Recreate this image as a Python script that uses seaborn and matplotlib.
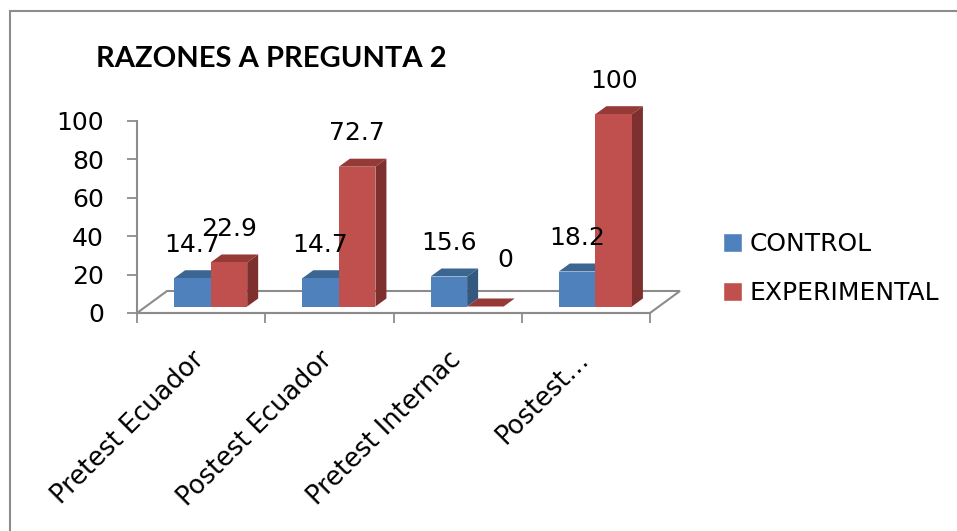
import pandas as pd
import matplotlib
matplotlib.use("Agg")
import matplotlib.pyplot as plt
import matplotlib.transforms as mtransforms
from matplotlib.patches import Polygon, Rectangle, Patch
import seaborn as sns

# datos
categorias = ['Pretest Ecuador', 'Postest Ecuador', 'Pretest Internac', 'Postest…']
control = [14.7, 14.7, 15.6, 18.2]
experimental = [22.9, 72.7, 0, 100]
series = ['CONTROL', 'EXPERIMENTAL']

colores = ['#4F81BD', '#C0504D']
colores_top = ['#3C6692', '#953A37']
colores_lado = ['#35587F', '#7D302E']
gris = '#8C8C8C'

df = pd.DataFrame({
    'categoria': categorias * 2,
    'serie': [series[0]] * len(control) + [series[1]] * len(experimental),
    'valor': control + experimental,
})

sns.set_style('white')
plt.rcParams['font.family'] = ['DejaVu Sans']
plt.rcParams['text.color'] = 'black'
plt.rcParams['xtick.labelcolor'] = 'black'
plt.rcParams['ytick.labelcolor'] = 'black'

W, H = 957, 531
fig = plt.figure(figsize=(W / 100, H / 100), dpi=100)
ax = fig.add_axes([137 / W, 1 - 313 / H, (650 - 137) / W, (313 - 120.7) / H])

sns.barplot(data=df, x='categoria', y='valor', hue='serie', palette=colores,
            width=0.57, saturation=1, linewidth=0, legend=False, ax=ax, zorder=3)
ax.set_xlim(-0.5, 3.5)
ax.set_ylim(0, 100)
ax.set_xlabel('')
ax.set_ylabel('')

# efecto 3D: barras desplazadas hacia el fondo del piso
sh = ax.transData + mtransforms.ScaledTranslation(9.5 / 100, 6.5 / 100, fig.dpi_scale_trans)
ident = mtransforms.IdentityTransform()
dx, dy = 11, 8

for k, cont in enumerate(ax.containers):
    for bar in cont:
        bar.set_transform(sh)
        bar.set_clip_on(False)
        x0, w, h = bar.get_x(), bar.get_width(), bar.get_height()
        (xl, yb), (xr, yt) = sh.transform([(x0, 0), (x0 + w, h)])
        top = [(xl, yt), (xr, yt), (xr + dx, yt + dy), (xl + dx, yt + dy)]
        lado = [(xr, yb), (xr + dx, yb + dy), (xr + dx, yt + dy), (xr, yt)]
        ax.add_patch(Polygon(top, closed=True, transform=ident, facecolor=colores_top[k],
                             edgecolor='none', zorder=2, clip_on=False))
        if h > 0:
            ax.add_patch(Polygon(lado, closed=True, transform=ident, facecolor=colores_lado[k],
                                 edgecolor='none', zorder=2, clip_on=False))
            off = (6.8, 28.6)
        else:
            off = (21, 38)  # Excel sube la etiqueta de una barra en cero
        ax.annotate(f'{h:g}', xy=(x0 + w / 2, h), xytext=off, textcoords='offset points',
                    ha='center', va='center', fontsize=18, annotation_clip=False, zorder=5)

# piso
(fx0, fy), (fx1, _) = ax.transData.transform([(-0.5, 0), (3.5, 0)])
piso = [(fx0, fy), (fx1, fy), (fx1 + 30, fy + 22), (fx0 + 30, fy + 22)]
ax.add_patch(Polygon(piso, closed=True, transform=ident, facecolor='white',
                     edgecolor=gris, linewidth=1.5, zorder=1, clip_on=False))

# ejes
for s in ['top', 'right']:
    ax.spines[s].set_visible(False)
for s in ['left', 'bottom']:
    ax.spines[s].set_color(gris)
    ax.spines[s].set_linewidth(1.5)

ax.set_xticks([-0.5, 0.5, 1.5, 2.5, 3.5])
ax.set_xticklabels([])
ax.tick_params(axis='x', length=7.2, width=1.3, color=gris, direction='out', bottom=True)
for i, cat in enumerate(categorias):
    ax.annotate(cat, xy=(i, 0), xytext=(-7, -24), textcoords='offset points',
                rotation=45, rotation_mode='anchor', ha='right', va='top',
                fontsize=18.5, annotation_clip=False)

ax.set_yticks(range(0, 101, 20))
ax.tick_params(axis='y', length=7.2, width=1.3, color=gris, direction='out', labelsize=18, pad=16.5, left=True)

fig.text(96 / W, 1 - 67 / H, 'RAZONES A PREGUNTA 2', fontsize=21, fontweight='bold',
         family=['Lato', 'DejaVu Sans'], va='baseline', ha='left')

handles = [Patch(facecolor=c, label=s) for c, s in zip(colores, series)]
fig.legend(handles=handles, loc='upper left', bbox_to_anchor=(723 / W, 1 - 232 / H),
           frameon=False, fontsize=18, handlelength=0.76, handleheight=0.76,
           handletextpad=0.32, labelspacing=1.0, borderpad=0, borderaxespad=0)

# marco del grafico
fig.patches.append(Rectangle((10 / W, -0.1), 1.2, 1 - 11 / H + 0.1, transform=fig.transFigure,
                             fill=False, edgecolor=gris, linewidth=1.5))

fig.savefig('out.png', dpi=100)
